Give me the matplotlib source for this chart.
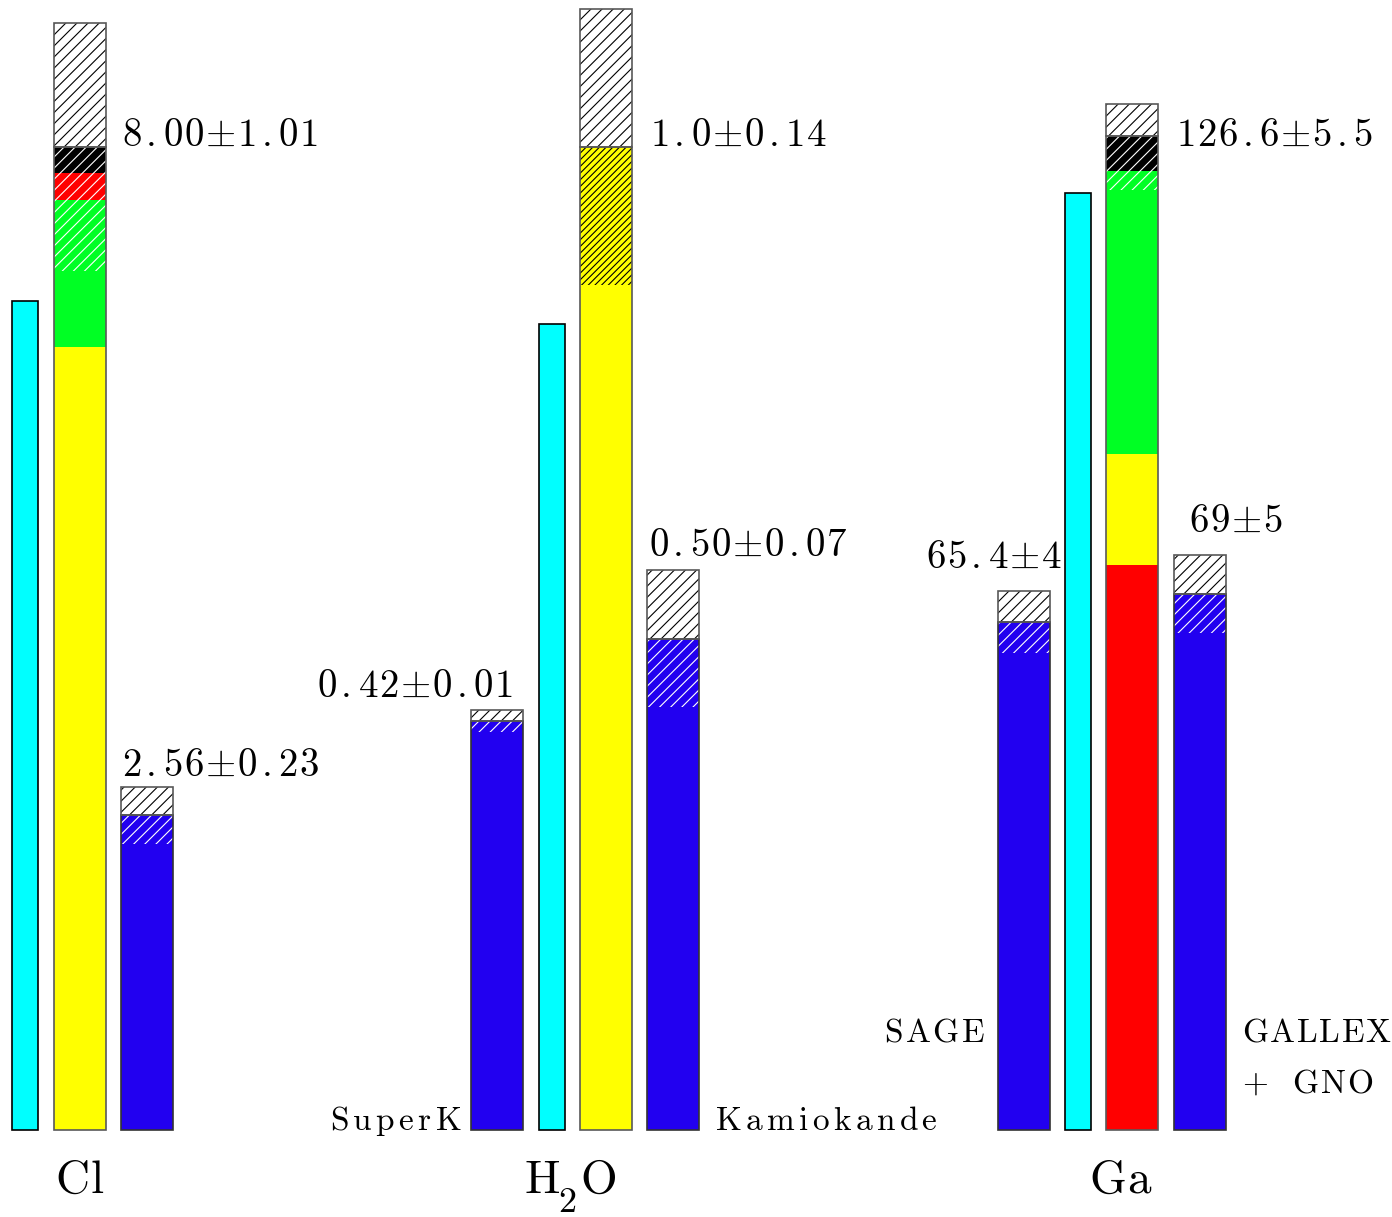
import matplotlib
matplotlib.use("Agg")
import matplotlib.pyplot as plt

grupos = ["Cl", "H2O", "Ga"]
normas = [8.00, 1.0, 126.6]          # previsao teorica total de cada grupo

cl_componentes = [6.37, 1.20, 0.22, 0.21]
cl_cores = ["#ffff00", "#00ff24", "#ff0000", "#000000"]
cl_erro = [1.01, 1.01]                # (acima, abaixo)
cl_ciano = 6.75
cl_medido = [2.56]
cl_medido_erro = [0.23]
cl_rotulos = ["8.00±1.01", "2.56±0.23"]

h2o_componentes = [1.0]
h2o_cores = ["#ffff00"]
h2o_erro = [0.14, 0.14]
h2o_ciano = 0.82
h2o_medido = [0.416, 0.50]            # SuperK, Kamiokande
h2o_medido_erro = [0.011, 0.07]
h2o_rotulos = ["1.0±0.14", "0.42±0.01", "0.50±0.07"]

ga_componentes = [72.8, 14.3, 36.4, 4.5]
ga_cores = ["#ff0000", "#ffff00", "#00ff24", "#000000"]
ga_erro = [4.1, 7.0]
ga_ciano = 120.7
ga_medido = [65.4, 69.0]              # SAGE, GALLEX+GNO
ga_medido_erro = [4.0, 5.0]
ga_rotulos = ["126.6±5.5", "65.4±4", "69±5"]

nomes = ["SuperK", "Kamiokande", "SAGE", "GALLEX", "+ GNO"]

AZUL = "#2200f0"
CIANO = "#00ffff"
BORDA = "0.35"
LARG = 52
HACH = "///"

plt.rcParams["mathtext.fontset"] = "cm"
plt.rcParams["hatch.linewidth"] = 0.8

fig = plt.figure(figsize=(13.92, 12.17), dpi=100)
ax = fig.add_axes([0, 0, 1, 1])
ax.set_xlim(0, 1392)
ax.set_ylim(-87 / 983, 1130 / 983)
ax.axis("off")

# eixo em pixels so para os textos
px = fig.add_axes([0, 0, 1, 1])
px.set_xlim(0, 1392)
px.set_ylim(1217, 0)
px.axis("off")


def caixa(x, base, altura, largura, cor):
    ax.bar(x, altura, bottom=base, width=largura, facecolor="none",
           edgecolor=cor, linewidth=1.2)


def hachura(x, base, altura, cor_fundo, cor_linha, padrao=HACH):
    ax.bar(x, altura, bottom=base, width=LARG, facecolor=cor_fundo,
           edgecolor=cor_linha, linewidth=0, hatch=padrao)


def barra_teorica(x, comps, cores, norma, erro, cor_hach="white", padrao=HACH):
    base = 0
    for v, c in zip(comps, cores):
        ax.bar(x, v / norma, bottom=base, width=LARG, color=c, linewidth=0)
        base += v / norma
    topo = base
    hachura(x, topo - erro[1] / norma, erro[1] / norma, "none", cor_hach, padrao)
    hachura(x, topo, erro[0] / norma, "white", "black")
    caixa(x, 0, topo, LARG, BORDA)
    caixa(x, topo, erro[0] / norma, LARG, BORDA)


def barra_medida(x, valor, erro, norma):
    v = valor / norma
    e = erro / norma
    ax.bar(x, v, width=LARG, color=AZUL, linewidth=0)
    hachura(x, v - e, e, "none", "white")
    hachura(x, v, e, "white", "black")
    caixa(x, 0, v, LARG, "0.2")
    caixa(x, v, e, LARG, BORDA)


def barra_ciano(x, valor, norma):
    ax.bar(x, valor / norma, width=26, color=CIANO, edgecolor="black",
           linewidth=1.2)


# Cl
barra_ciano(25, cl_ciano, normas[0])
barra_teorica(80, cl_componentes, cl_cores, normas[0], cl_erro)
barra_medida(147, cl_medido[0], cl_medido_erro[0], normas[0])

# H2O
barra_medida(497, h2o_medido[0], h2o_medido_erro[0], normas[1])
barra_ciano(551.5, h2o_ciano, normas[1])
barra_teorica(606, h2o_componentes, h2o_cores, normas[1], h2o_erro,
              cor_hach="black", padrao="/////")
barra_medida(673, h2o_medido[1], h2o_medido_erro[1], normas[1])

# Ga
barra_medida(1023.5, ga_medido[0], ga_medido_erro[0], normas[2])
barra_ciano(1077.5, ga_ciano, normas[2])
barra_teorica(1132, ga_componentes, ga_cores, normas[2], ga_erro)
barra_medida(1199.5, ga_medido[1], ga_medido_erro[1], normas[2])


def espacar(s, sp):
    # letras um pouco afastadas, como no original
    saida = ""
    for i, ch in enumerate(s):
        if ch == "±":
            parte = r"{\pm}"
        elif ch == " ":
            parte = r"\ \ "
        elif ch == "+":
            parte = r"{+}"
        else:
            parte = r"\mathrm{%s}" % ch
        if i > 0:
            if ch == ".":
                saida += r"\hspace{%g}" % (sp * 2.5)
            elif s[i - 1] != ".":
                saida += r"\hspace{%g}" % sp
        saida += parte
    return "$" + saida + "$"


fs_num = 28
fs_nome = 24
fs_grupo = 34


def texto(x, y, s, fs, ha="left", sp=0.05):
    px.text(x, y, espacar(s, sp), fontsize=fs, ha=ha, va="baseline")


texto(122, 146, cl_rotulos[0], fs_num)
texto(122, 776, cl_rotulos[1], fs_num)
texto(650, 146, h2o_rotulos[0], fs_num)
texto(317, 697, h2o_rotulos[1], fs_num)
texto(649, 556, h2o_rotulos[2], fs_num)
texto(1176, 146, ga_rotulos[0], fs_num)
texto(926, 568, ga_rotulos[1], fs_num)
texto(1189, 532, ga_rotulos[2], fs_num)

texto(462, 1130, nomes[0], fs_nome, ha="right", sp=0.15)
texto(715, 1130, nomes[1], fs_nome, sp=0.15)
texto(985, 1041, nomes[2], fs_nome, ha="right", sp=0.09)
texto(1242, 1041, nomes[3], fs_nome, sp=0.055)
texto(1242, 1093, nomes[4], fs_nome, sp=0.08)

texto(80, 1193, "Cl", fs_grupo, ha="center", sp=0.03)
texto(1121, 1193, "Ga", fs_grupo, ha="center", sp=0.03)
texto(524, 1193, "H", fs_grupo)
texto(558, 1212, "2", 26)
texto(580, 1193, "O", fs_grupo)

fig.savefig("out.png", dpi=100)
